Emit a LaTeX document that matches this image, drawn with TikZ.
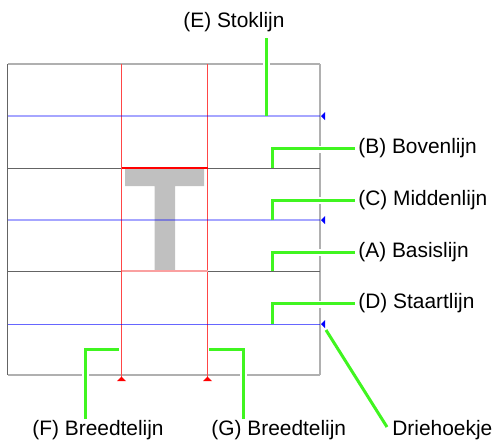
\documentclass[tikz,border=0pt]{standalone}
\usepackage{fontspec}
\setmainfont{Liberation Sans}
\definecolor{lgreen}{RGB}{64,245,32}
\definecolor{tgray}{RGB}{192,192,192}
\definecolor{framelight}{RGB}{176,176,176}
\definecolor{framedark}{RGB}{100,100,100}
\definecolor{lred}{RGB}{255,70,70}
\definecolor{pinkred}{RGB}{250,160,160}
\begin{document}
\begin{tikzpicture}[x=0.5pt,y=-0.5pt,
  lbl/.style={font=\fontsize{10.45}{12}\selectfont, inner sep=0pt, anchor=west},
  guide/.style={draw=lgreen, line width=1.5pt},
  halo/.style={draw=white, line width=3.5pt},
  blueline/.style={draw=blue, opacity=0.35, line width=0.75pt},
  blueline2/.style={draw=blue, opacity=0.6, line width=0.5pt},
  grayline/.style={draw=framedark, line width=0.5pt},
  redline/.style={draw=lred, line width=0.9pt},
  bluetri/.style={fill=blue},
  redtri/.style={fill=red}]
\useasboundingbox (0,0) rectangle (494,441);
% T glyph
\fill[tgray] (125,168) -- (204,168) -- (204,186) -- (175,186) -- (175,271)
  -- (154.7,271) -- (154.7,186) -- (125,186) -- cycle;
% frame
\draw[framelight, line width=0.75pt] (8,64) -- (320,64);
\draw[framelight, line width=0.75pt] (320,64) -- (320,375);
\draw[framelight, line width=0.75pt] (8,375) -- (320,375);
\draw[framedark, line width=0.5pt] (8,64) -- (8,375);
% horizontal guide lines
\draw[grayline] (8,168) -- (320,168);
\draw[grayline] (8,271) -- (320,271);
% red width lines
\draw[redline] (121.5,64) -- (121.5,377);
\draw[redline] (207.5,64) -- (207.5,377);
\draw[draw=red, line width=0.6pt] (121.5,168) -- (207.5,168);
\draw[draw=pinkred, line width=0.6pt] (121.5,271) -- (207.5,271);
% blue lines on top
\draw[blueline] (8,116) -- (320,116);
\draw[blueline] (8,220) -- (320,220);
\draw[blueline2] (8,324) -- (320,324);
% triangles
\fill[bluetri] (321,116) -- (325,112) -- (325,120) -- cycle;
\fill[bluetri] (321,220) -- (325,216) -- (325,224) -- cycle;
\fill[bluetri] (321,324) -- (325,320) -- (325,328) -- cycle;
\fill[redtri] (121.5,376.5) -- (117,381) -- (126,381) -- cycle;
\fill[redtri] (207.5,376.5) -- (203,381) -- (212,381) -- cycle;
% labels
\node[lbl] (E) at (183,22) {(E) Stoklijn};
\node[lbl] (B) at (358,148) {(B) Bovenlijn};
\node[lbl] (C) at (358,200) {(C) Middenlijn};
\node[lbl] (A) at (358,252) {(A) Basislijn};
\node[lbl] (D) at (358,303) {(D) Staartlijn};
\node[lbl] (F) at (32,430) {(F) Breedtelijn};
\node[lbl] (G) at (211,430) {(G) Breedtelijn};
\node[lbl] (H) at (392,430) {Driehoekje};
% connector coordinates
\coordinate (e0) at (266,116); \coordinate (e1) at (266,38);
\coordinate (b0) at (272.7,168);
\coordinate (c0) at (272.7,220);
\coordinate (a0) at (272.7,271);
\coordinate (d0) at (272.7,324);
\coordinate (f0) at (119,349); \coordinate (f1) at (85,419);
\coordinate (g0) at (209,349); \coordinate (g1) at (243.7,419);
\coordinate (t0) at (326,330); \coordinate (t1) at (387,427);
% halos where green lines cross the frame
\draw[halo] (266,61) -- (266,67);
\draw[halo] (317,149) -- (323,149);
\draw[halo] (317,200) -- (323,200);
\draw[halo] (317,252) -- (323,252);
\draw[halo] (317,304) -- (323,304);
\draw[halo] (85,372) -- (85,378);
\draw[halo] (243.7,372) -- (243.7,378);
% connectors
\draw[guide] (e0) -- (e1);
\draw[guide, shorten >=1.5pt] (b0) |- (B.west);
\draw[guide, shorten >=1.5pt] (c0) |- (C.west);
\draw[guide, shorten >=1.5pt] (a0) |- (A.west);
\draw[guide, shorten >=1.5pt] (d0) |- (D.west);
\draw[guide] (f0) -| (f1);
\draw[guide] (g0) -| (g1);
\draw[guide] (t0) -- (t1);
\end{tikzpicture}
\end{document}
